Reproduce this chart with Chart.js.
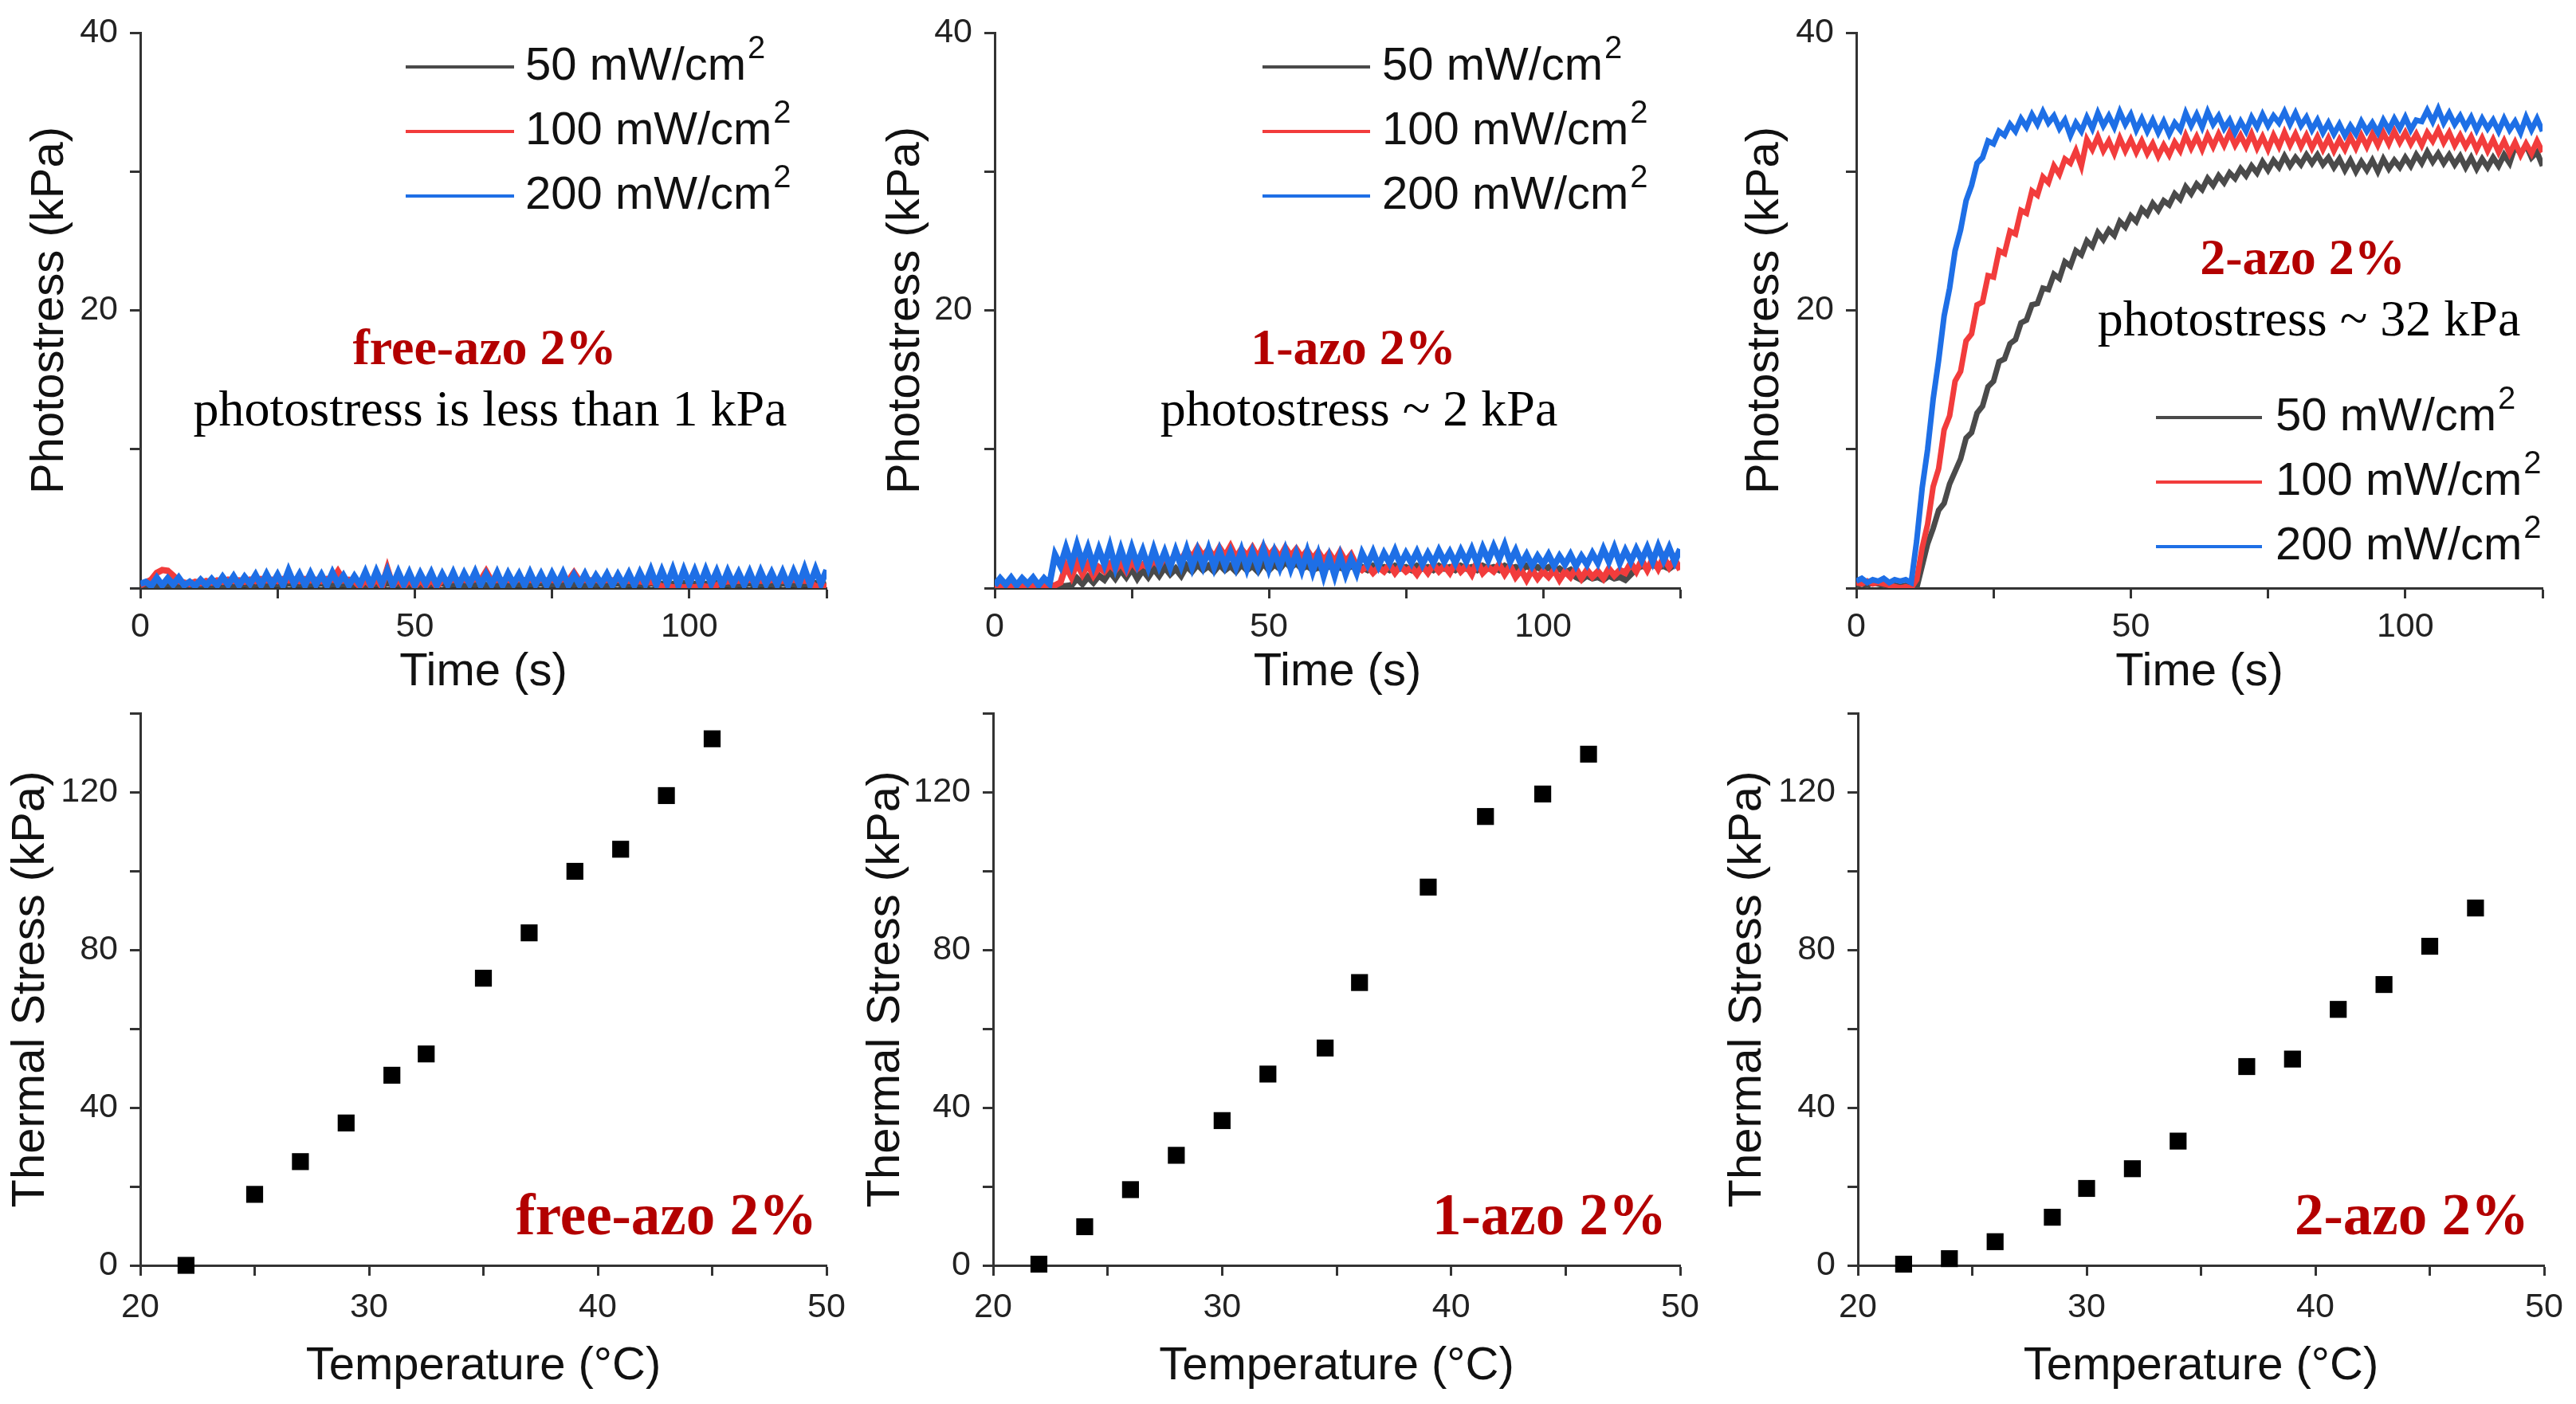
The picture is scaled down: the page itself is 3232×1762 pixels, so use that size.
<!DOCTYPE html>
<html>
<head>
<meta charset="utf-8">
<title>Photostress and thermal stress</title>
<script src="https://cdn.jsdelivr.net/npm/chart.js@4.4.1/dist/chart.umd.min.js"></script>
<style>
  html, body { margin: 0; padding: 0; background: #fff; }
  #wrap { position: relative; width: 3232px; height: 1762px; overflow: hidden; background: #fff; }
  canvas { position: absolute; }
</style>
</head>
<body>
<div id="wrap">
  <canvas id="photoFree" width="1077" height="880" style="left:0px;top:0px;width:1077px;height:880px"></canvas>
  <canvas id="photoOne" width="1078" height="880" style="left:1077px;top:0px;width:1078px;height:880px"></canvas>
  <canvas id="photoTwo" width="1077" height="880" style="left:2155px;top:0px;width:1077px;height:880px"></canvas>
  <canvas id="thermFree" width="1077" height="882" style="left:0px;top:880px;width:1077px;height:882px"></canvas>
  <canvas id="thermOne" width="1078" height="882" style="left:1077px;top:880px;width:1078px;height:882px"></canvas>
  <canvas id="thermTwo" width="1077" height="882" style="left:2155px;top:880px;width:1077px;height:882px"></canvas>
</div>
<script>
'use strict';

// GLOBALS / DATA
const powerLabels = ['50 mW/cm\u00B2', '100 mW/cm\u00B2', '200 mW/cm\u00B2'];

// time axis of the photostress runs (s)
const timeS = [
  0, 1, 2, 3, 4, 5, 6, 7, 8, 9,
  10, 11, 12, 13, 14, 15, 16, 17, 18, 19,
  20, 21, 22, 23, 24, 25, 26, 27, 28, 29,
  30, 31, 32, 33, 34, 35, 36, 37, 38, 39,
  40, 41, 42, 43, 44, 45, 46, 47, 48, 49,
  50, 51, 52, 53, 54, 55, 56, 57, 58, 59,
  60, 61, 62, 63, 64, 65, 66, 67, 68, 69,
  70, 71, 72, 73, 74, 75, 76, 77, 78, 79,
  80, 81, 82, 83, 84, 85, 86, 87, 88, 89,
  90, 91, 92, 93, 94, 95, 96, 97, 98, 99,
  100, 101, 102, 103, 104, 105, 106, 107, 108, 109,
  110, 111, 112, 113, 114, 115, 116, 117, 118, 119,
  120, 121, 122, 123, 124, 125
];

// free-azo 2% photostress (kPa)
const freeAzo50 = [
  0.1, 0.2, 0.15, 0.25, 0.2, 0.3, 0.2, 0.15, 0.1, 0.2,
  0.15, 0.2, 0.25, 0.2, 0.3, 0.2, 0.25, 0.15, 0.2, 0.3,
  0.2, 0.25, 0.3, 0.2, 0.25, 0.3, 0.2, 0.35, 0.25, 0.3,
  0.2, 0.3, 0.25, 0.35, 0.2, 0.3, 0.25, 0.3, 0.2, 0.25,
  0.3, 0.2, 0.25, 0.3, 0.2, 0.35, 0.25, 0.3, 0.2, 0.25,
  0.3, 0.25, 0.2, 0.3, 0.25, 0.35, 0.2, 0.3, 0.25, 0.2,
  0.3, 0.25, 0.35, 0.2, 0.3, 0.25, 0.3, 0.2, 0.25, 0.3,
  0.2, 0.3, 0.25, 0.35, 0.2, 0.3, 0.25, 0.2, 0.3, 0.25,
  0.35, 0.2, 0.3, 0.25, 0.3, 0.2, 0.25, 0.35, 0.2, 0.3,
  0.25, 0.3, 0.2, 0.35, 0.25, 0.3, 0.2, 0.3, 0.25, 0.35,
  0.2, 0.3, 0.25, 0.3, 0.2, 0.35, 0.25, 0.3, 0.2, 0.3,
  0.25, 0.35, 0.2, 0.3, 0.25, 0.3, 0.2, 0.35, 0.25, 0.3,
  0.2, 0.3, 0.25, 0.35, 0.2, 0.3
];
const freeAzo100 = [
  0.2, 0.4, 0.6, 1.1, 1.3, 1.25, 0.9, 0.5, 0.4, 0.3,
  0.45, 0.35, 0.5, 0.4, 0.55, 0.45, 0.6, 0.5, 0.55, 0.45,
  0.6, 0.5, 0.65, 0.55, 0.6, 0.5, 0.65, 0.55, 0.6, 0.5,
  0.65, 0.55, 0.6, 0.5, 0.65, 0.6, 1.2, 0.55, 0.6, 0.5,
  0.1, 0.6, 0.15, 0.7, 0.1, 1.4, 0.15, 0.7, 0.1, 0.65,
  0.1, 0.6, 0.15, 0.65, 0.1, 0.6, 0.5, 0.6, 0.55, 0.6,
  0.5, 0.65, 0.55, 1.2, 0.5, 0.6, 0.55, 0.6, 0.5, 0.65,
  0.55, 0.6, 0.5, 0.6, 0.55, 0.6, 0.5, 0.65, 0.55, 1.1,
  0.5, 0.6, 0.55, 0.6, 0.5, 0.6, 0.55, 0.6, 0.5, 0.55,
  0.45, 0.5, 0.4, 0.45, 0.35, 0.1, 0.15, 0.05, 0.1, 0.05,
  0.1, 0.05, 0.15, 0.1, 0.05, 0.2, 0.4, 0.5, 0.45, 0.55,
  0.5, 0.6, 0.5, 0.55, 0.45, 0.6, 0.5, 0.55, 0.5, 0.6,
  0.5, 0.55, 0.45, 0.1, 0.2, 0.1
];
const freeAzo200 = [
  0.3, 0.45, 0.15, 0.75, 0.2, 0.7, 0.25, 0.75, 0.2, 0.45,
  0.15, 0.6, 0.2, 0.65, 0.2, 0.8, 0.25, 0.85, 0.2, 0.8,
  0.3, 0.95, 0.2, 1.0, 0.25, 0.95, 0.2, 1.25, 0.3, 1.0,
  0.2, 1.05, 0.25, 0.95, 0.2, 1.1, 0.3, 0.9, 0.2, 0.85,
  0.25, 1.15, 0.2, 1.2, 0.3, 1.25, 0.2, 1.15, 0.25, 1.1,
  0.2, 1.05, 0.3, 1.1, 0.2, 1.0, 0.25, 1.1, 0.2, 1.05,
  0.3, 1.15, 0.2, 1.0, 0.25, 1.1, 0.2, 1.05, 0.3, 1.0,
  0.2, 1.1, 0.25, 1.0, 0.2, 1.05, 0.3, 1.1, 0.2, 0.95,
  0.25, 1.0, 0.2, 0.9, 0.3, 1.0, 0.2, 0.95, 0.25, 1.05,
  0.2, 1.1, 0.3, 1.3, 0.25, 1.25, 0.3, 1.35, 0.2, 1.3,
  0.3, 1.25, 0.25, 1.3, 0.3, 1.2, 0.2, 1.2, 0.3, 1.1,
  0.25, 1.15, 0.2, 1.2, 0.3, 1.1, 0.25, 1.15, 0.2, 1.2,
  0.3, 1.4, 0.25, 1.35, 0.3, 1.3
];

// 1-azo 2% photostress (kPa)
const oneAzo50 = [
  0.1, 0.15, 0.1, 0.2, 0.15, 0.1, 0.2, 0.15, 0.1, 0.15,
  0.1, 0.15, 0.1, 0.15, 0.2, 0.7, 0.3, 0.8, 0.4, 0.9,
  0.6, 1.2, 0.7, 1.3, 0.8, 1.4, 0.7, 1.3, 0.8, 1.4,
  0.9, 1.5, 1.0, 1.4, 0.9, 1.6, 1.2, 1.7, 1.3, 1.6,
  1.2, 1.7, 1.3, 1.6, 1.2, 1.7, 1.3, 1.6, 1.2, 1.8,
  1.3, 1.7, 1.4, 1.9, 1.5, 1.8, 1.4, 1.6, 1.3, 1.5,
  1.3, 1.6, 1.4, 1.5, 1.3, 1.6, 1.4, 1.5, 1.3, 1.6,
  1.4, 1.5, 1.3, 1.6, 1.4, 1.5, 1.3, 1.6, 1.4, 1.5,
  1.3, 1.6, 1.4, 1.5, 1.3, 1.6, 1.4, 1.5, 1.3, 1.6,
  1.4, 1.5, 1.3, 1.6, 1.4, 1.5, 1.3, 1.6, 1.4, 1.5,
  1.3, 1.5, 1.2, 1.4, 1.1, 1.3, 0.8, 0.6, 0.9, 0.7,
  0.8, 0.6, 0.9, 0.7, 0.8, 0.6, 1.0, 1.4, 1.6, 1.5,
  1.7, 1.5, 1.6, 1.4, 1.7, 1.5
];
const oneAzo100 = [
  0.1, 0.2, 0.15, 0.25, 0.1, 0.2, 0.15, 0.2, 0.1, 0.25,
  0.15, 0.2, 0.4, 1.6, 0.8, 1.8, 1.0, 1.7, 0.9, 1.5,
  1.2, 1.7, 1.3, 1.8, 1.2, 1.9, 1.4, 1.7, 1.5, 2.0,
  1.6, 2.2, 1.8, 2.5, 2.0, 2.7, 2.2, 2.9, 2.3, 2.8,
  2.2, 2.9, 2.3, 3.0, 2.2, 2.8, 2.3, 2.9, 2.2, 3.0,
  2.3, 2.8, 2.2, 2.9, 2.3, 2.8, 2.2, 2.7, 2.1, 2.6,
  2.0, 2.5, 1.9, 2.6, 1.9, 2.4, 1.6, 1.3, 1.6, 1.1,
  1.5, 1.2, 1.7, 1.1, 1.6, 1.2, 1.5, 1.0, 1.6, 1.1,
  1.7, 1.2, 1.6, 1.1, 1.8, 1.2, 1.6, 1.0, 1.9, 1.1,
  1.5, 1.2, 1.7, 1.0, 1.6, 0.8, 1.3, 0.6, 1.3, 0.7,
  1.2, 0.8, 1.3, 0.6, 1.2, 0.8, 1.4, 0.7, 1.3, 0.8,
  1.2, 0.7, 1.4, 0.9, 1.3, 1.1, 1.8, 1.2, 2.0, 1.3,
  2.1, 1.4, 2.2, 1.5, 2.1, 1.3
];
const oneAzo200 = [
  0.2, 0.7, 0.25, 0.75, 0.2, 0.7, 0.3, 0.75, 0.2, 0.7,
  0.3, 2.4, 1.6, 2.9, 1.7, 3.1, 1.8, 2.9, 1.6, 2.8,
  1.7, 3.0, 1.5, 2.8, 1.6, 2.9, 1.7, 2.7, 1.5, 2.8,
  1.6, 2.6, 1.5, 2.7, 1.6, 2.8, 1.5, 2.7, 1.6, 2.8,
  1.5, 2.7, 1.6, 2.6, 1.5, 2.7, 1.4, 2.6, 1.5, 2.8,
  1.4, 2.6, 1.5, 2.7, 1.4, 2.5, 1.3, 2.6, 1.2, 2.4,
  0.9, 2.2, 0.9, 2.3, 1.0, 2.1, 1.1, 2.5, 1.7, 2.6,
  1.6, 2.5, 1.8, 2.7, 1.7, 2.5, 1.8, 2.6, 1.7, 2.5,
  1.8, 2.7, 1.9, 2.6, 1.8, 2.7, 1.9, 2.8, 1.8, 2.9,
  2.0, 3.0, 2.1, 3.1, 1.9, 2.7, 1.7, 2.4, 1.6, 2.3,
  1.7, 2.4, 1.6, 2.3, 1.7, 2.4, 1.6, 2.3, 1.7, 2.5,
  1.8, 2.8, 1.9, 2.9, 1.8, 2.7, 1.9, 2.8, 2.0, 2.9,
  1.9, 3.0, 2.0, 2.9, 1.9, 2.8
];

// 2-azo 2% photostress (kPa)
const twoAzo50 = [
  0.2, 0.3, 0.2, 0.4, 0.3, 0.2, 0.3, 0.2, 0.1, 0.2,
  0.1, 0.0, 1.6, 3.2, 4.3, 5.6, 6.1, 7.5, 8.4, 9.3,
  10.8, 11.2, 12.6, 13.1, 14.5, 14.9, 16.3, 16.5, 17.6, 17.9,
  19.1, 19.3, 20.4, 20.5, 21.6, 21.5, 22.6, 22.3, 23.5, 23.2,
  24.3, 24.0, 25.0, 24.6, 25.6, 25.1, 25.8, 25.4, 26.4, 26.0,
  26.8, 26.4, 27.3, 26.9, 27.7, 27.2, 27.9, 27.6, 28.4, 28.0,
  28.9, 28.4, 29.1, 28.7, 29.5, 29.0, 29.7, 29.2, 29.9, 29.5,
  30.2, 29.7, 30.4, 29.9, 30.7, 30.1, 30.8, 30.3, 31.1, 30.4,
  31.0, 30.5, 31.2, 30.6, 31.2, 30.5, 31.0, 30.3, 30.9, 30.1,
  30.8, 30.0, 30.7, 30.1, 30.8, 30.0, 30.9, 30.2, 30.8, 30.3,
  31.0, 30.4, 31.2, 30.6, 31.4, 30.7, 31.3, 30.6, 31.2, 30.5,
  31.1, 30.3, 31.0, 30.2, 30.9, 30.3, 31.0, 30.4, 31.2, 30.6,
  31.8, 31.3, 31.9, 31.0, 31.4, 30.4
];
const twoAzo100 = [
  0.4, 0.3, 0.5, 0.3, 0.4, 0.3, 0.2, 0.1, 0.0, 0.1,
  0.0, 0.6, 2.9, 4.6, 7.3, 8.6, 11.4, 12.4, 14.9, 15.6,
  17.8, 18.3, 20.4, 20.6, 22.5, 22.4, 24.3, 24.1, 25.7, 25.5,
  27.2, 27.0, 28.6, 28.3, 29.6, 29.2, 30.4, 29.8, 30.9, 30.6,
  31.5, 30.4, 32.3, 31.6, 32.5, 31.5, 32.2, 31.3, 32.4, 31.5,
  32.3, 31.4, 32.2, 31.3, 32.0, 31.1, 31.9, 31.2, 32.1, 31.5,
  32.6, 31.7, 32.5, 31.6, 32.6, 31.8, 32.7, 31.9, 32.8, 31.9,
  32.6, 31.8, 32.7, 31.7, 32.5, 31.6, 32.6, 31.8, 32.8, 31.9,
  32.7, 31.8, 32.6, 31.7, 32.5, 31.6, 32.4, 31.5, 32.3, 31.6,
  32.5, 31.7, 32.6, 31.8, 32.7, 31.9, 32.8, 32.0, 32.9, 32.1,
  32.8, 32.0, 32.7, 31.9, 32.8, 32.2, 33.0, 32.1, 32.8, 31.9,
  32.6, 31.8, 32.5, 31.6, 32.4, 31.5, 32.3, 31.4, 32.2, 31.3,
  32.1, 31.2, 32.0, 31.3, 32.2, 31.4
];
const twoAzo200 = [
  0.5, 0.7, 0.4, 0.6, 0.5, 0.7, 0.4, 0.6, 0.5, 0.6,
  0.4, 3.4, 7.2, 10.0, 13.6, 16.4, 19.6, 21.6, 24.3, 25.8,
  27.9, 29.0, 30.6, 31.0, 32.2, 32.0, 32.9, 32.6, 33.4, 32.9,
  33.8, 33.2, 34.1, 33.4, 34.3, 33.5, 34.0, 33.1, 33.7, 32.6,
  33.5, 32.9, 33.9, 33.1, 34.2, 33.3, 34.0, 33.2, 34.3, 33.4,
  34.1, 33.0, 33.8, 32.9, 33.7, 32.8, 33.6, 32.7, 33.5, 33.0,
  34.2, 33.3, 34.1, 33.2, 34.3, 33.4, 34.0, 33.1, 33.7, 32.8,
  33.6, 32.9, 33.9, 33.2, 34.1, 33.3, 34.0, 33.5, 34.3, 33.4,
  34.2, 33.3, 33.9, 33.0, 33.7, 32.8, 33.5, 32.7, 33.4, 32.6,
  33.3, 32.7, 33.6, 32.9, 33.5, 32.8, 33.7, 33.0, 33.8, 33.1,
  33.9, 33.0, 33.7, 33.6, 34.4, 33.6, 34.5, 33.5, 34.2, 33.4,
  34.0, 33.2, 33.9, 33.0, 33.8, 33.1, 33.7, 32.9, 33.8, 33.0,
  33.6, 32.8, 33.9, 33.0, 33.8, 32.9
];

// thermal stress vs temperature (degC, kPa)
const tempFree = [22, 25, 27, 29, 31, 32.5, 35, 37, 39, 41, 43, 45];
const stressFree = [0, 18, 26.3, 36.1, 48.2, 53.6, 72.8, 84.3, 99.9, 105.5, 119.1, 133.5];
const tempOne = [22, 24, 26, 28, 30, 32, 34.5, 36, 39, 41.5, 44, 46];
const stressOne = [0.3, 9.8, 19.2, 27.9, 36.7, 48.5, 55.1, 71.7, 95.9, 113.8, 119.5, 129.6];
const tempTwo = [22, 24, 26, 28.5, 30, 32, 34, 37, 39, 41, 43, 45, 47];
const stressTwo = [0.3, 1.7, 6, 12.2, 19.5, 24.5, 31.5, 50.4, 52.3, 64.9, 71.2, 80.9, 90.6];

// labelled ticks
const timeTickLabels = [0, 50, 100];
const photoTickLabels = [20, 40];
const tempTickLabels = [20, 30, 40, 50];
const stressTickLabels = [0, 40, 80, 120];


// STYLES
const SANS = "'Liberation Sans', Arial, sans-serif";
const SERIF = "'Liberation Serif', 'Times New Roman', serif";
const lineColors = ['#4a4a4a', '#f23c3c', '#1e6fe6'];
const axisColor = '#333';
const noteRed = '#b30000';


// draws the in-plot notes and the line legend
const panelText = {
  id: 'panelText',
  afterDraw(chart, args, opts) {
    let ctx = chart.ctx;
    ctx.save();
    (opts.notes || []).forEach(function (n) {
      ctx.font = n.font;
      ctx.fillStyle = n.color;
      ctx.textAlign = n.align || 'center';
      ctx.textBaseline = 'middle';
      ctx.fillText(n.text, n.x, n.y);
    });
    if (opts.legend) {
      let lg = opts.legend;
      chart.data.datasets.forEach(function (ds, i) {
        let y = lg.y + i * lg.gap;
        ctx.strokeStyle = ds.borderColor;
        ctx.lineWidth = 4;
        ctx.beginPath();
        ctx.moveTo(lg.x0, y);
        ctx.lineTo(lg.x1, y);
        ctx.stroke();
        // unit superscript drawn raised and smaller, like the figure
        let label = ds.label;
        let sup = '';
        if (label.endsWith('\u00B2')) {
          label = label.slice(0, -1);
          sup = '2';
        }
        ctx.font = '58px ' + SANS;
        ctx.fillStyle = '#111';
        ctx.textAlign = 'left';
        ctx.textBaseline = 'middle';
        ctx.fillText(label, lg.textX, y);
        if (sup) {
          let w = ctx.measureText(label).width;
          ctx.font = '40px ' + SANS;
          ctx.fillText(sup, lg.textX + w + 2, y - 22);
        }
      });
    }
    ctx.restore();
  }
};

function axisBase(min, max, step, labels, tickPad) {
  return {
    type: 'linear',
    min: min,
    max: max,
    ticks: {
      stepSize: step,
      autoSkip: false,
      maxRotation: 0,
      padding: tickPad,
      color: '#222',
      font: { family: SANS, size: 43 },
      callback: function (v) { return labels.includes(v) ? String(v) : ''; }
    },
    grid: { drawOnChartArea: false, drawTicks: true, tickLength: 13, tickWidth: 3, tickColor: axisColor },
    border: { display: true, color: axisColor, width: 3 }
  };
}

// panel: {canvasW, canvasH, left, right, top, bottom, yTitlePad, xTitlePad}
function buildChart(canvasId, datasets, panel, axes, extra) {
  let xAxis = axisBase(axes.x[0], axes.x[1], axes.x[2], axes.xLabels, axes.xPad);
  xAxis.title = { display: true, text: axes.xTitle, color: '#111', font: { family: SANS, size: 58 }, padding: { top: 0, bottom: panel.xTitlePad } };
  xAxis.afterFit = function (s) {
    s.height = panel.canvasH - panel.bottom;
    s.paddingLeft = 0;
    s.paddingRight = 0;
  };

  let yAxis = axisBase(axes.y[0], axes.y[1], axes.y[2], axes.yLabels, 15);
  yAxis.title = { display: true, text: axes.yTitle, color: '#111', font: { family: SANS, size: 58 }, padding: { top: panel.yTitlePad, bottom: 0 } };
  yAxis.afterFit = function (s) {
    s.width = panel.left;
    s.paddingTop = 0;
    s.paddingBottom = 0;
  };

  return new Chart(document.getElementById(canvasId), {
    type: axes.type,
    data: { datasets: datasets },
    options: {
      responsive: false,
      animation: false,
      devicePixelRatio: 1,
      layout: { padding: { left: 0, right: panel.canvasW - panel.right, top: panel.top, bottom: 0 } },
      scales: { x: xAxis, y: yAxis },
      plugins: {
        legend: { display: false },
        tooltip: { enabled: false },
        panelText: extra
      }
    },
    plugins: [panelText]
  });
}

function photoSets(s50, s100, s200, width) {
  let series = [s50, s100, s200];
  return series.map(function (arr, i) {
    return {
      label: powerLabels[i],
      data: timeS.map(function (t, k) { return { x: t, y: arr[k] }; }),
      borderColor: lineColors[i],
      backgroundColor: lineColors[i],
      borderWidth: width,
      pointRadius: 0,
      tension: 0,
      order: 3 - i
    };
  });
}

function thermalSets(temps, stress) {
  return [{
    label: 'Thermal stress',
    data: temps.map(function (t, k) { return { x: t, y: stress[k] }; }),
    pointStyle: 'rect',
    pointRadius: 15,
    borderWidth: 0,
    backgroundColor: '#000',
    borderColor: '#000',
    clip: false
  }];
}

let photoAxes = {
  type: 'line', x: [0, 125, 25], xLabels: timeTickLabels, xPad: 10, xTitle: 'Time (s)',
  y: [0, 40, 10], yLabels: photoTickLabels, yTitle: 'Photostress (kPa)'
};
let thermAxes = {
  type: 'scatter', x: [20, 50, 5], xLabels: tempTickLabels, xPad: 14, xTitle: 'Temperature (\u00B0C)',
  y: [0, 140, 20], yLabels: stressTickLabels, yTitle: 'Thermal Stress (kPa)'
};

let redBold = 'bold 64px ' + SERIF;
let blackSerif = '64px ' + SERIF;
let redBig = 'bold 73px ' + SERIF;

// top row: photostress
buildChart('photoFree', photoSets(freeAzo50, freeAzo100, freeAzo200, 8),
  { canvasW: 1077, canvasH: 880, left: 176, right: 1037, top: 41, bottom: 738, yTitlePad: 28, xTitlePad: 1 },
  photoAxes,
  {
    notes: [
      { text: 'free-azo 2%', x: 608, y: 440, font: redBold, color: noteRed },
      { text: 'photostress is less than 1 kPa', x: 615, y: 517, font: blackSerif, color: '#000' }
    ],
    legend: { x0: 509, x1: 645, textX: 659, y: 84, gap: 81 }
  });

buildChart('photoOne', photoSets(oneAzo50, oneAzo100, oneAzo200, 8),
  { canvasW: 1078, canvasH: 880, left: 171, right: 1031, top: 41, bottom: 738, yTitlePad: 25, xTitlePad: 1 },
  photoAxes,
  {
    notes: [
      { text: '1-azo 2%', x: 621, y: 440, font: redBold, color: noteRed },
      { text: 'photostress ~ 2 kPa', x: 628, y: 517, font: blackSerif, color: '#000' }
    ],
    legend: { x0: 507, x1: 642, textX: 657, y: 84, gap: 81 }
  });

buildChart('photoTwo', photoSets(twoAzo50, twoAzo100, twoAzo200, 7),
  { canvasW: 1077, canvasH: 880, left: 174, right: 1035, top: 41, bottom: 738, yTitlePad: 25, xTitlePad: 1 },
  photoAxes,
  {
    notes: [
      { text: '2-azo 2%', x: 734, y: 327, font: redBold, color: noteRed },
      { text: 'photostress ~ 32 kPa', x: 742, y: 404, font: blackSerif, color: '#000' }
    ],
    legend: { x0: 550, x1: 683, textX: 700, y: 524, gap: 81 }
  });

// bottom row: thermal stress
buildChart('thermFree', thermalSets(tempFree, stressFree),
  { canvasW: 1077, canvasH: 882, left: 176, right: 1037, top: 9, bottom: 708, yTitlePad: 4, xTitlePad: 12 },
  thermAxes,
  { notes: [{ text: 'free-azo 2%', x: 1025, y: 650, font: redBig, color: noteRed, align: 'right' }] });

buildChart('thermOne', thermalSets(tempOne, stressOne),
  { canvasW: 1078, canvasH: 882, left: 169, right: 1031, top: 9, bottom: 708, yTitlePad: 0, xTitlePad: 12 },
  thermAxes,
  { notes: [{ text: '1-azo 2%', x: 1014, y: 650, font: redBig, color: noteRed, align: 'right' }] });

buildChart('thermTwo', thermalSets(tempTwo, stressTwo),
  { canvasW: 1077, canvasH: 882, left: 176, right: 1037, top: 9, bottom: 708, yTitlePad: 3, xTitlePad: 12 },
  thermAxes,
  { notes: [{ text: '2-azo 2%', x: 1018, y: 650, font: redBig, color: noteRed, align: 'right' }] });
</script>
</body>
</html>
